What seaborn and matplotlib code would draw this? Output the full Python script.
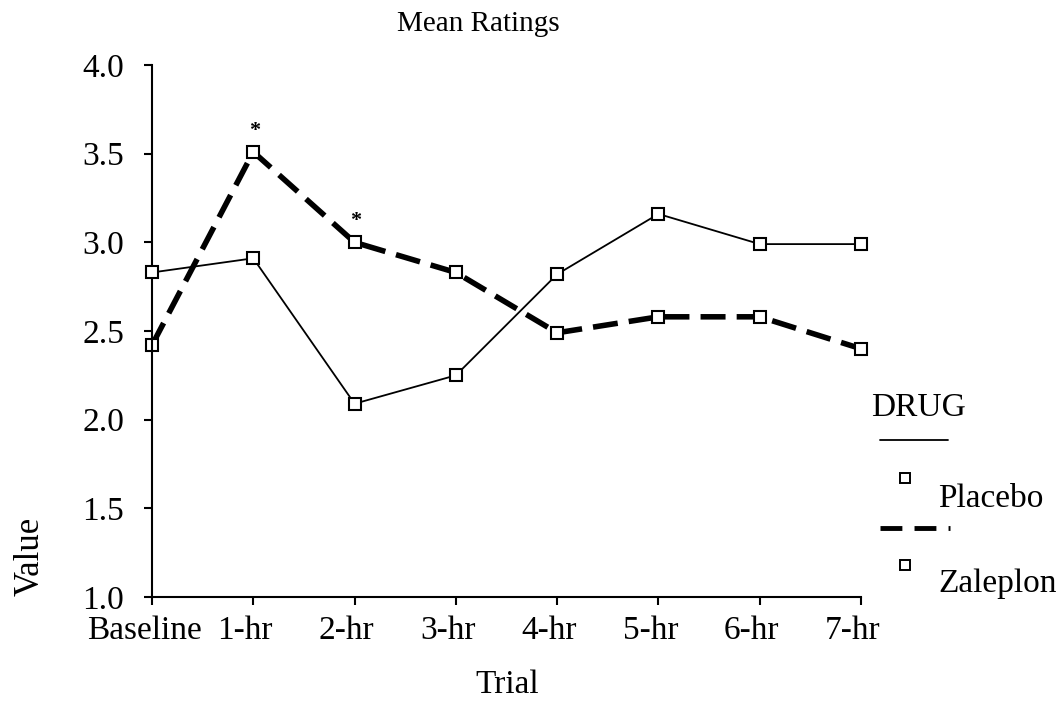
import matplotlib
matplotlib.use("Agg")
import matplotlib.pyplot as plt
import matplotlib.transforms as mtransforms
from matplotlib.lines import Line2D
import seaborn as sns
import pandas as pd

trials = ["Baseline", "1-hr", "2-hr", "3-hr", "4-hr", "5-hr", "6-hr", "7-hr"]
placebo = [2.83, 2.91, 2.09, 2.25, 2.82, 3.16, 2.99, 2.99]
zaleplon = [2.42, 3.51, 3.00, 2.83, 2.49, 2.58, 2.58, 2.40]
significant = ["1-hr", "2-hr"]
yticks = [1.0, 1.5, 2.0, 2.5, 3.0, 3.5, 4.0]

sns.set_theme(style="ticks")
plt.rcParams["font.family"] = ["Liberation Serif", "DejaVu Serif"]
plt.rcParams["text.color"] = "black"
plt.rcParams["axes.labelcolor"] = "black"

df = pd.DataFrame({
    "Trial": trials * 2,
    "Value": placebo + zaleplon,
    "DRUG": ["Placebo"] * len(trials) + ["Zaleplon"] * len(trials),
})

fig = plt.figure(figsize=(10.62, 7.23), dpi=100)
ax = fig.add_axes([152 / 1062, 1 - 597 / 723, (861 - 152) / 1062, (597 - 65) / 723])

marker_kw = dict(marker="s", markersize=8, markerfacecolor="white",
                 markeredgecolor="black", markeredgewidth=1.5)

sns.lineplot(data=df[df["DRUG"] == "Placebo"], x="Trial", y="Value", color="black",
             linewidth=1.3, ax=ax, sort=False, **marker_kw)
sns.lineplot(data=df[df["DRUG"] == "Zaleplon"], x="Trial", y="Value", color="black",
             linewidth=4, ax=ax, sort=False, dashes=False, **marker_kw)
lines = ax.get_lines()
lines[1].set_dashes((4.5, 2.0))
for ln in lines:
    ln.set_clip_on(False)
lines[0].set_zorder(3)
lines[1].set_zorder(2)

# significance asterisks above Zaleplon points
for t in significant:
    i = trials.index(t)
    ax.annotate("*", xy=(i, zaleplon[i]), xytext=(1, 8), textcoords="offset points",
                ha="center", va="bottom", fontsize=16, fontweight="bold")

ax.set_xlim(0, len(trials) - 1)
ax.set_ylim(1.0, 4.0)
ax.set_yticks(yticks)
ax.set_yticklabels([f"{v:.1f}" for v in yticks])
ax.set_xticks(range(len(trials)))
ax.set_xticklabels(trials)
sns.despine(ax=ax)
ax.spines["left"].set_linewidth(1.5)
ax.spines["bottom"].set_linewidth(1.5)
ax.spines["left"].set_color("black")
ax.spines["bottom"].set_color("black")
ax.tick_params(axis="both", colors="black", labelsize=24, width=1.5, length=6, direction="out")
ax.tick_params(axis="y", pad=14)
ax.tick_params(axis="x", pad=7)
offset = mtransforms.ScaledTranslation(-8 / 100, 0, fig.dpi_scale_trans)
for lab in ax.get_xticklabels():
    lab.set_transform(lab.get_transform() + offset)
ax.set_xlabel("")
ax.set_ylabel("")
ax.grid(False)

fig.text(478 / 1062, 1 - 24 / 723, "Mean Ratings", ha="center", va="center", fontsize=21)
fig.text(507 / 1062, 1 - 685 / 723, "Trial", ha="center", va="center", fontsize=24)
fig.text(30 / 1062, 1 - 556 / 723, "Value", ha="center", va="center", fontsize=25, rotation=90)

# legend (drawn manually to mimic the original layout)
def fx(px):
    return px / 1062

def fy(py):
    return 1 - py / 723

fig.text(fx(871), fy(408), "DRUG", ha="left", va="center", fontsize=24)
fig.add_artist(Line2D([fx(880), fx(948)], [fy(440), fy(440)], color="black", linewidth=1.3,
                      transform=fig.transFigure))
fig.add_artist(Line2D([fx(905)], [fy(478)], transform=fig.transFigure, linestyle="none",
                      marker="s", markersize=7, markerfacecolor="white",
                      markeredgecolor="black", markeredgewidth=1.4))
fig.add_artist(Line2D([fx(905)], [fy(565)], transform=fig.transFigure, linestyle="none",
                      marker="s", markersize=7, markerfacecolor="white",
                      markeredgecolor="black", markeredgewidth=1.4))
fig.text(fx(938), fy(499), "Placebo", ha="left", va="center", fontsize=24)
fig.add_artist(Line2D([fx(880), fx(950)], [fy(528), fy(528)], color="black", linewidth=3.5,
                      dashes=(4.5, 2.5), transform=fig.transFigure))
fig.text(fx(938), fy(584), "Zaleplon", ha="left", va="center", fontsize=24)

fig.savefig("out.png", dpi=100, facecolor="white")
